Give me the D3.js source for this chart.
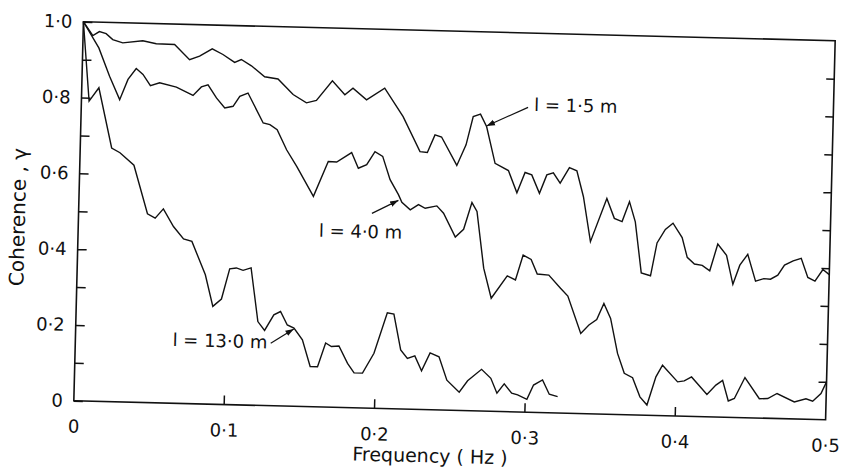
<!DOCTYPE html>
<html>
<head>
<meta charset="utf-8">
<script src="https://cdn.jsdelivr.net/npm/d3@7"></script>
<style>
  html, body { margin: 0; padding: 0; background: #fff; }
  svg { display: block; }
  text { font-family: "DejaVu Sans", sans-serif; fill: #111; }
</style>
</head>
<body>
<svg id="chart" width="844" height="473"></svg>
<script>
// ---- data ----
const xTickValues = [0, 0.1, 0.2, 0.3, 0.4, 0.5];
const xTickLabels = ["0", "0·1", "0·2", "0·3", "0·4", "0·5"];
const yTickValues = [0, 0.1, 0.2, 0.3, 0.4, 0.5, 0.6, 0.7, 0.8, 0.9, 1.0];
const yTickLabels = ["0", "", "0·2", "", "0·4", "", "0·6", "", "0·8", "", "1·0"];
const xTitle = "Frequency ( Hz )";
const yTitle = "Coherence , γ";

const seriesNames = ["l = 1·5 m", "l = 4·0 m", "l = 13·0 m"];

const freq15 = [0, 0.0065, 0.0108, 0.0153, 0.0198, 0.0265, 0.0398, 0.0488, 0.061, 0.0712, 0.0778, 0.0861, 0.0933, 0.1012, 0.1056, 0.1124, 0.1214, 0.1303, 0.1406, 0.1496, 0.1562, 0.1665, 0.175, 0.1803, 0.1895, 0.2014, 0.2141, 0.2259, 0.2308, 0.2356, 0.240, 0.2506, 0.2564, 0.2607, 0.2655, 0.2698, 0.276, 0.285, 0.291, 0.2961, 0.3006, 0.306, 0.3106, 0.3149, 0.3196, 0.3255, 0.3305, 0.3353, 0.3407, 0.3509, 0.3562, 0.3614, 0.366, 0.3702, 0.375, 0.3812, 0.385, 0.3903, 0.3953, 0.4016, 0.4053, 0.4102, 0.4154, 0.4205, 0.4254, 0.4314, 0.4361, 0.4404, 0.4455, 0.4511, 0.4566, 0.461, 0.4658, 0.4701, 0.4758, 0.4811, 0.4858, 0.4906, 0.4957, 0.5];
const coh15 = [1.0, 0.964, 0.975, 0.970, 0.955, 0.947, 0.954, 0.947, 0.946, 0.907, 0.917, 0.937, 0.923, 0.903, 0.911, 0.895, 0.867, 0.862, 0.822, 0.801, 0.808, 0.861, 0.825, 0.843, 0.813, 0.845, 0.771, 0.680, 0.678, 0.725, 0.720, 0.646, 0.701, 0.776, 0.783, 0.750, 0.654, 0.636, 0.578, 0.632, 0.626, 0.578, 0.627, 0.633, 0.606, 0.648, 0.640, 0.572, 0.454, 0.569, 0.517, 0.509, 0.562, 0.509, 0.375, 0.368, 0.455, 0.491, 0.508, 0.471, 0.419, 0.402, 0.399, 0.385, 0.456, 0.427, 0.351, 0.402, 0.431, 0.361, 0.368, 0.367, 0.378, 0.405, 0.417, 0.424, 0.374, 0.365, 0.396, 0.383];

const freq40 = [0, 0.0107, 0.0183, 0.0254, 0.0306, 0.0359, 0.0405, 0.0456, 0.0517, 0.0629, 0.0741, 0.0795, 0.0839, 0.0897, 0.0954, 0.1009, 0.1052, 0.1106, 0.1212, 0.1257, 0.1306, 0.1372, 0.1442, 0.1558, 0.1651, 0.1707, 0.1805, 0.1852, 0.1907, 0.196, 0.2012, 0.2065, 0.2123, 0.2147, 0.2204, 0.2258, 0.2303, 0.238, 0.2426, 0.2508, 0.2562, 0.2613, 0.2648, 0.2702, 0.2757, 0.286, 0.2915, 0.2962, 0.3016, 0.3059, 0.3136, 0.3216, 0.3266, 0.3358, 0.3411, 0.3462, 0.3507, 0.3554, 0.3606, 0.3654, 0.371, 0.3762, 0.381, 0.3865, 0.3907, 0.401, 0.4054, 0.4102, 0.4207, 0.4265, 0.4309, 0.435, 0.439, 0.4457, 0.4556, 0.4612, 0.4673, 0.4789, 0.4866, 0.4911, 0.4965, 0.5];
const coh40 = [1.0, 0.932, 0.858, 0.797, 0.851, 0.880, 0.865, 0.836, 0.844, 0.834, 0.813, 0.836, 0.842, 0.808, 0.782, 0.787, 0.814, 0.823, 0.745, 0.741, 0.728, 0.676, 0.633, 0.555, 0.648, 0.647, 0.673, 0.632, 0.642, 0.677, 0.665, 0.604, 0.565, 0.545, 0.526, 0.540, 0.531, 0.538, 0.519, 0.457, 0.478, 0.549, 0.526, 0.377, 0.298, 0.358, 0.348, 0.414, 0.403, 0.365, 0.363, 0.329, 0.309, 0.211, 0.234, 0.249, 0.292, 0.253, 0.161, 0.109, 0.098, 0.048, 0.027, 0.102, 0.133, 0.090, 0.093, 0.104, 0.059, 0.084, 0.097, 0.043, 0.050, 0.106, 0.051, 0.052, 0.066, 0.045, 0.054, 0.048, 0.069, 0.100];

const freq130 = [0, 0.0051, 0.0114, 0.0209, 0.0265, 0.036, 0.0458, 0.051, 0.0563, 0.0633, 0.0702, 0.0758, 0.0853, 0.0908, 0.0964, 0.1014, 0.1058, 0.1103, 0.1156, 0.121, 0.1256, 0.1315, 0.1359, 0.1406, 0.1451, 0.1509, 0.1565, 0.1614, 0.1664, 0.1703, 0.1753, 0.1813, 0.1858, 0.1914, 0.1987, 0.2069, 0.2113, 0.2164, 0.221, 0.2259, 0.2306, 0.236, 0.242, 0.2476, 0.256, 0.2614, 0.2705, 0.2768, 0.2811, 0.2858, 0.2909, 0.2949, 0.3011, 0.3053, 0.3112, 0.3159, 0.3215];
const coh130 = [1.0, 0.791, 0.827, 0.669, 0.657, 0.625, 0.498, 0.487, 0.512, 0.466, 0.434, 0.428, 0.341, 0.258, 0.278, 0.358, 0.361, 0.355, 0.362, 0.221, 0.198, 0.240, 0.249, 0.214, 0.206, 0.176, 0.106, 0.106, 0.169, 0.160, 0.162, 0.117, 0.092, 0.092, 0.145, 0.253, 0.250, 0.156, 0.134, 0.141, 0.102, 0.150, 0.140, 0.079, 0.048, 0.079, 0.110, 0.087, 0.048, 0.073, 0.049, 0.045, 0.034, 0.072, 0.086, 0.049, 0.043];

// label anchor points (data coords): [text x, text y, arrow tail x, tail y, arrow head x, head y]
const annot15 = [0.301, 0.795, 0.297, 0.804, 0.2697, 0.752];
const annot40 = [0.160, 0.449, 0.195, 0.514, 0.2124, 0.550];
const annot130 = [0.0646, 0.151, 0.1299, 0.165, 0.145, 0.204];

// ---- layout ----
const W = 844, H = 473;
const margin = { left: 78.5, right: W - 830.5, top: 31.2, bottom: H - 410.3 };
const x = d3.scaleLinear().domain([0, 0.5]).range([margin.left, W - margin.right]);
const y = d3.scaleLinear().domain([0, 1]).range([H - margin.bottom, margin.top]);

const svg = d3.select("#chart");
const cx = 454.5, cy = 220.75;
const g = svg.append("g").attr("transform", `rotate(1.45, ${cx}, ${cy})`);

// frame
g.append("rect")
  .attr("x", x(0)).attr("y", y(1))
  .attr("width", x(0.5) - x(0)).attr("height", y(0) - y(1))
  .attr("fill", "none").attr("stroke", "#111").attr("stroke-width", 1.6);

// left axis
const yAxisL = d3.axisLeft(y).tickValues(yTickValues).tickSize(-9).tickPadding(11)
  .tickFormat((d, i) => yTickLabels[i]);
g.append("g").attr("transform", `translate(${x(0)},0)`).call(yAxisL)
  .call(a => a.select(".domain").remove())
  .call(a => a.selectAll("line").attr("stroke", "#111").attr("stroke-width", 1.5))
  .call(a => a.selectAll("text").attr("font-size", 18).attr("font-family", "DejaVu Sans").attr("fill", "#111"));

// right axis ticks
const yAxisR = d3.axisRight(y).tickValues(yTickValues.filter(v => v > 0 && v < 1)).tickSize(-8).tickFormat("");
g.append("g").attr("transform", `translate(${x(0.5)},0)`).call(yAxisR)
  .call(a => a.select(".domain").remove())
  .call(a => a.selectAll("line").attr("stroke", "#111").attr("stroke-width", 1.5));

// bottom axis
const xAxis = d3.axisBottom(x).tickValues(xTickValues).tickSize(0).tickPadding(0)
  .tickFormat((d, i) => xTickLabels[i]);
const xa = g.append("g").attr("transform", `translate(0,${y(0)})`).call(xAxis);
xa.select(".domain").remove();
xa.selectAll("text").attr("font-size", 18).attr("font-family", "DejaVu Sans").attr("fill", "#111")
  .attr("dy", null).attr("y", 32);
// inward bottom ticks (0.1..0.4)
g.selectAll(".xtick-in").data(xTickValues.filter(v => v > 0 && v < 0.5)).join("line")
  .attr("x1", d => x(d)).attr("x2", d => x(d))
  .attr("y1", y(0)).attr("y2", y(0) - 9)
  .attr("stroke", "#111").attr("stroke-width", 1.5);

// titles
g.append("text").attr("x", 436).attr("y", 463)
  .attr("text-anchor", "middle").attr("font-size", 19).text(xTitle);
g.append("text").attr("transform", `translate(25,228) rotate(-90)`)
  .attr("text-anchor", "middle").attr("font-size", 20).text(yTitle);

// curves
const line = d3.line().x(d => x(d[0])).y(d => y(d[1]));
const series = [d3.zip(freq15, coh15), d3.zip(freq40, coh40), d3.zip(freq130, coh130)];
g.selectAll(".curve").data(series).join("path")
  .attr("class", "curve")
  .attr("d", line)
  .attr("fill", "none").attr("stroke", "#111").attr("stroke-width", 1.4)
  .attr("stroke-linejoin", "miter");

// annotations with arrows
svg.append("defs").append("marker")
  .attr("id", "arrow").attr("viewBox", "0 0 10 10").attr("refX", 10).attr("refY", 5)
  .attr("markerWidth", 7).attr("markerHeight", 7).attr("orient", "auto")
  .append("path").attr("d", "M0,1.5 L10,5 L0,8.5 z").attr("fill", "#111");

const annots = [annot15, annot40, annot130];
annots.forEach((a, i) => {
  g.append("text").attr("x", x(a[0])).attr("y", y(a[1]))
    .attr("font-size", 18).text(seriesNames[i]);
  g.append("line")
    .attr("x1", x(a[2])).attr("y1", y(a[3]))
    .attr("x2", x(a[4])).attr("y2", y(a[5]))
    .attr("stroke", "#111").attr("stroke-width", 1.2)
    .attr("marker-end", "url(#arrow)");
});
</script>
</body>
</html>
